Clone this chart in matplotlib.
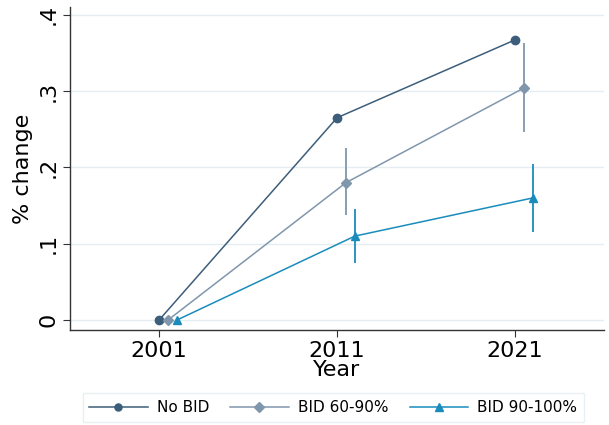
import numpy as np
import matplotlib.pyplot as plt

years = [2001, 2011, 2021]
series = ['No BID', 'BID 60-90%', 'BID 90-100%']
colors = ['#3c5e7b', '#8096ac', '#1a8cbc']
markers = ['o', 'D', '^']
offsets = [0.0, 0.5, 1.0]

no_bid = [0.0, 0.265, 0.367]
bid_60_90 = [0.0, 0.180, 0.304]
bid_60_90_lo = [0.0, 0.137, 0.246]
bid_60_90_hi = [0.0, 0.225, 0.363]
bid_90_100 = [0.0, 0.110, 0.160]
bid_90_100_lo = [0.0, 0.075, 0.116]
bid_90_100_hi = [0.0, 0.146, 0.204]

values = [no_bid, bid_60_90, bid_90_100]
lows = [None, bid_60_90_lo, bid_90_100_lo]
highs = [None, bid_60_90_hi, bid_90_100_hi]

fig = plt.figure(figsize=(6.09, 4.25), dpi=100)
ax = fig.add_axes([0.115, 0.2235, 0.877, 0.76])

for i in range(3):
    x = np.array(years) + offsets[i]
    y = np.array(values[i])
    if highs[i] is not None:
        lo = np.array(lows[i])
        hi = np.array(highs[i])
        # skip the base year, there is no interval there
        ax.vlines(x[1:], lo[1:], hi[1:], color=colors[i], lw=1.3, zorder=2)
    ax.plot(x, y, color=colors[i], marker=markers[i], lw=1.1,
            markersize=5.5 if markers[i] == 'D' else 6, label=series[i], zorder=3)

ax.set_xlim(1996, 2026)
ax.set_ylim(-0.013, 0.41)
ax.set_xticks(years)
ax.set_xticklabels([str(y) for y in years], fontsize=16)
ax.set_yticks([0, 0.1, 0.2, 0.3, 0.4])
ax.set_yticklabels(['0', '.1', '.2', '.3', '.4'], fontsize=16, rotation=90, va='center')
ax.grid(axis='y', color='#e3edf2', lw=1)
ax.set_axisbelow(True)
for s in ['top', 'right']:
    ax.spines[s].set_visible(False)
for s in ['left', 'bottom']:
    ax.spines[s].set_color('#333333')
    ax.spines[s].set_linewidth(1.0)
ax.tick_params(axis='both', length=5, width=0.8, color='#333333', pad=3)
ax.set_xlabel('Year', fontsize=16, labelpad=-1)
ax.set_ylabel('% change', fontsize=16, labelpad=4)

leg = fig.legend(loc='lower center', bbox_to_anchor=(0.547, -0.011), ncol=3, fontsize=11,
                 frameon=True, fancybox=False, edgecolor='#e3edf2', handlelength=3.8,
                 handletextpad=0.6, columnspacing=1.4, borderpad=0.45, markerscale=0.85)
leg.get_frame().set_linewidth(1.0)

fig.savefig('out.png', dpi=100)
